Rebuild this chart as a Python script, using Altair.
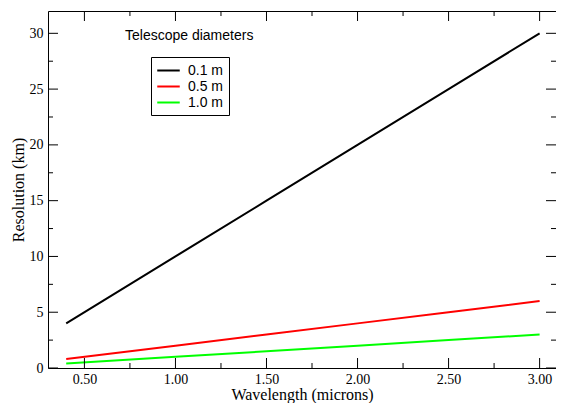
import altair as alt
import pandas as pd

wavelengths = [0.4, 1.0, 1.5, 2.0, 2.5, 3.0]
res_01 = [4.0, 10.0, 15.0, 20.0, 25.0, 30.0]
res_05 = [0.8, 2.0, 3.0, 4.0, 5.0, 6.0]
res_10 = [0.4, 1.0, 1.5, 2.0, 2.5, 3.0]
series = ["0.1 m", "0.5 m", "1.0 m"]
colors = ["#000000", "#ff0000", "#00ff00"]
x_major = [0.5, 1.0, 1.5, 2.0, 2.5, 3.0]
x_minor = [0.75, 1.25, 1.75, 2.25, 2.75]
y_major = [0, 5, 10, 15, 20, 25, 30]
y_minor = [2.5, 7.5, 12.5, 17.5, 22.5, 27.5]
legend_title = "Telescope diameters"

W, H = 508, 357
xdom = [0.3, 3.09]
ydom = [0, 32]

rows = []
for name, vals in zip(series, [res_01, res_05, res_10]):
    for w, v in zip(wavelengths, vals):
        rows.append({"wl": w, "res": v, "d": name})
df = pd.DataFrame(rows)

xs = alt.Scale(domain=xdom, nice=False, zero=False)
ys = alt.Scale(domain=ydom, nice=False, zero=False)
XT = "Wavelength (microns)"
YT = "Resolution (km)"

lines = alt.Chart(df).mark_line(strokeWidth=2, clip=True).encode(
    x=alt.X("wl:Q", scale=xs, title=XT,
            axis=alt.Axis(values=x_major, format=".2f", ticks=False, tickSize=0,
                          domain=False, grid=False, labelPadding=4, titlePadding=0,
                          labelFont="Liberation Serif", labelFontSize=14,
                          titleFont="Liberation Serif", titleFontSize=16,
                          titleFontWeight="normal", labelColor="black", titleColor="black")),
    y=alt.Y("res:Q", scale=ys, title=YT,
            axis=alt.Axis(values=y_major, format="d", ticks=False, tickSize=0,
                          domain=False, grid=False, labelPadding=5, titlePadding=3,
                          labelFont="Liberation Serif", labelFontSize=14,
                          titleFont="Liberation Serif", titleFontSize=16,
                          titleFontWeight="normal", labelColor="black", titleColor="black")),
    color=alt.Color("d:N", scale=alt.Scale(domain=series, range=colors),
                    legend=alt.Legend(title=None, orient="none", legendX=103, legendY=46,
                                      strokeColor="black", fillColor="white", padding=5,
                                      symbolType="M-1.5,0H1.5", symbolSize=225,
                                      symbolStrokeWidth=2, symbolOffset=4, labelOffset=11,
                                      rowPadding=0, labelFont="Liberation Sans",
                                      labelFontSize=14, labelColor="black")),
)

def xticks(vals, length, top):
    d = pd.DataFrame({"wl": vals})
    if top:
        yy, yy2 = 0, length
    else:
        yy, yy2 = H, H - length
    return alt.Chart(d).mark_rule(color="black", strokeWidth=1).encode(
        x=alt.X("wl:Q", scale=xs, title=XT),
        y=alt.value(yy), y2=alt.value(yy2))

def yticks(vals, length, right):
    d = pd.DataFrame({"res": vals})
    if right:
        xx, xx2 = W, W - length
    else:
        xx, xx2 = 0, length
    return alt.Chart(d).mark_rule(color="black", strokeWidth=1).encode(
        y=alt.Y("res:Q", scale=ys, title=YT),
        x=alt.value(xx), x2=alt.value(xx2))

ticks = [
    xticks(x_major, 10, False), xticks(x_major, 10, True),
    xticks(x_minor, 5, False), xticks(x_minor, 5, True),
    yticks(y_major, 10, False), yticks(y_major, 10, True),
    yticks(y_minor, 5, False), yticks(y_minor, 5, True),
]

title_text = alt.Chart(pd.DataFrame({"t": [legend_title]})).mark_text(
    align="left", baseline="middle", font="Liberation Sans", fontSize=14, color="black"
).encode(text="t:N", x=alt.value(77), y=alt.value(25))

chart = alt.layer(lines, *ticks, title_text).properties(
    width=W, height=H,
    autosize=alt.AutoSizeParams(type="none"),
    padding={"left": 40, "top": 3, "right": 0, "bottom": 35},
    background="white",
).configure_view(stroke="black", strokeWidth=1)

chart.save("out.html", embed_options={"renderer": "svg", "actions": False})
